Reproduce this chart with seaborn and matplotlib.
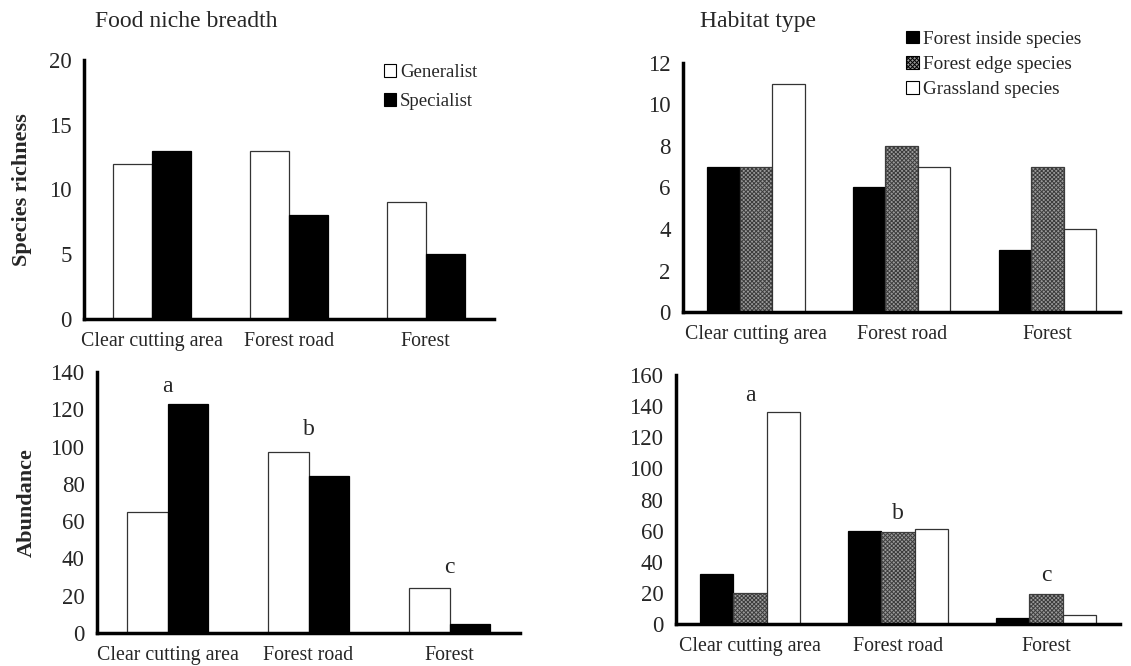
import numpy as np
import pandas as pd
import matplotlib
matplotlib.use("Agg")
import matplotlib.pyplot as plt
import seaborn as sns
from matplotlib.patches import Patch

# Data

sites = ["Clear cutting area", "Forest road", "Forest"]

food_groups = ["Generalist", "Specialist"]
richness_generalist = [12, 13, 9]
richness_specialist = [13, 8, 5]
abundance_generalist = [65, 97, 24]
abundance_specialist = [123, 84, 5]

habitat_groups = ["Forest inside species", "Forest edge species", "Grassland species"]
richness_inside = [7, 6, 3]
richness_edge = [7, 8, 7]
richness_grass = [11, 7, 4]
abundance_inside = [32, 60, 4]
abundance_edge = [20, 59, 19]
abundance_grass = [136, 61, 6]

letters = ["a", "b", "c"]
letters_food_y = [132, 109, 35]
letters_habitat_y = [147, 71, 31]


def long_table(groups, series):
    rows = []
    for g, vals in zip(groups, series):
        for s, v in zip(sites, vals):
            rows.append({"site": s, "group": g, "value": v})
    return pd.DataFrame(rows)


food_rich = long_table(food_groups, [richness_generalist, richness_specialist])
food_abund = long_table(food_groups, [abundance_generalist, abundance_specialist])
hab_rich = long_table(habitat_groups, [richness_inside, richness_edge, richness_grass])
hab_abund = long_table(habitat_groups, [abundance_inside, abundance_edge, abundance_grass])

sns.set_style("white")
plt.rcParams["font.family"] = ["Liberation Serif", "DejaVu Serif"]
plt.rcParams["hatch.linewidth"] = 0.7

food_style = [
    dict(facecolor="white", edgecolor="#333333", hatch=None),
    dict(facecolor="black", edgecolor="black", hatch=None),
]
hab_style = [
    dict(facecolor="black", edgecolor="black", hatch=None),
    dict(facecolor="#9a9a9a", edgecolor="#3c3c3c", hatch="xxxxxxxx"),
    dict(facecolor="white", edgecolor="#333333", hatch=None),
]

fig = plt.figure(figsize=(11.31, 6.66), dpi=100)

ax_tl = fig.add_axes([0.0743, 0.521, 0.3625, 0.389])
ax_tr = fig.add_axes([0.604, 0.5315, 0.3864, 0.374])
ax_bl = fig.add_axes([0.0858, 0.0495, 0.374, 0.392])
ax_br = fig.add_axes([0.5977, 0.063, 0.3926, 0.374])


def draw(ax, df, groups, styles, width, ymax, ystep):
    sns.barplot(data=df, x="site", y="value", hue="group", hue_order=groups,
                order=sites, width=width, ax=ax, legend=False,
                palette=["white"] * len(groups), linewidth=0.9, errorbar=None)
    for cont, st in zip(ax.containers, styles):
        for bar in cont:
            bar.set_facecolor(st["facecolor"])
            bar.set_edgecolor(st["edgecolor"])
            if st["hatch"]:
                bar.set_hatch(st["hatch"])
    ax.set_xlim(-0.5, 2.5)
    ax.set_ylim(0, ymax)
    ax.set_yticks(np.arange(0, ymax + 1, ystep))
    ax.set_xticks([0.5, 1.5, 2.5], minor=True)
    ax.tick_params(axis="x", which="major", length=0, pad=9, labelsize=14.3)
    ax.tick_params(axis="x", which="minor", direction="in", length=5, width=2.5)
    ax.tick_params(axis="y", direction="in", length=5, width=2.5, pad=9, labelsize=16.5)
    for side in ["top", "right"]:
        ax.spines[side].set_visible(False)
    for side in ["left", "bottom"]:
        ax.spines[side].set_linewidth(2.5)
        ax.spines[side].set_color("black")
    ax.set_xlabel("")
    ax.set_ylabel("")


draw(ax_tl, food_rich, food_groups, food_style, 0.57, 20, 5)
draw(ax_bl, food_abund, food_groups, food_style, 0.57, 140, 20)
draw(ax_tr, hab_rich, habitat_groups, hab_style, 0.67, 12, 2)
draw(ax_br, hab_abund, habitat_groups, hab_style, 0.67, 160, 20)

ax_tl.set_ylabel("Species richness", fontsize=16, fontweight="bold", labelpad=12)
ax_bl.set_ylabel("Abundance", fontsize=16, fontweight="bold", labelpad=10)

for i, t in enumerate(letters):
    ax_bl.text(i, letters_food_y[i], t, ha="center", va="center", fontsize=17)
    ax_br.text(i, letters_habitat_y[i], t, ha="center", va="center", fontsize=17)

fig.text(0.084, 0.967, "Food niche breadth", fontsize=17, va="center", ha="left")
fig.text(0.619, 0.967, "Habitat type", fontsize=17, va="center", ha="left")


def handles(groups, styles):
    return [Patch(facecolor=st["facecolor"], edgecolor="black", hatch=st["hatch"],
                  linewidth=0.8, label=g) for g, st in zip(groups, styles)]


ax_tl.legend(handles=handles(food_groups, food_style), loc="upper right",
             bbox_to_anchor=(1.0, 1.05), frameon=False, fontsize=13.5,
             handlelength=0.65, handleheight=0.65, handletextpad=0.2, labelspacing=0.65)

fig.legend(handles=handles(habitat_groups, hab_style), loc="upper left",
           bbox_to_anchor=(0.786, 0.98), frameon=False, fontsize=13.8,
           handlelength=0.65, handleheight=0.65, handletextpad=0.2, labelspacing=0.42)

fig.savefig("out.png", dpi=100)
